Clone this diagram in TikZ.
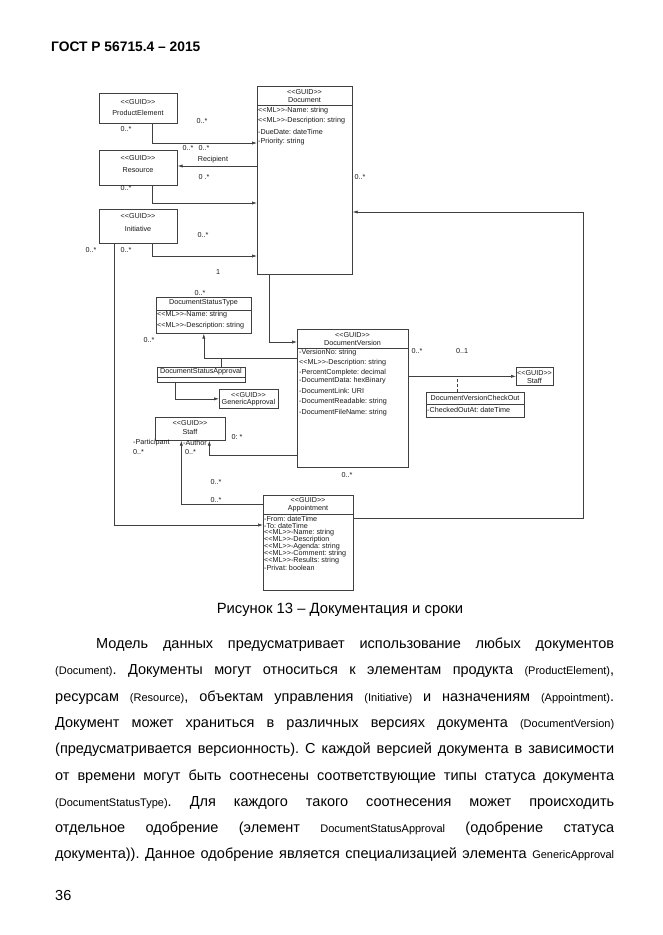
\documentclass[tikz,border=0pt]{standalone}
\usepackage{fontspec}
\setmainfont{Liberation Sans}
\usetikzlibrary{arrows.meta,calc}
\newcommand{\dfnt}{\fontsize{7.2}{8}\selectfont}
\newcommand{\ruf}{\fontsize{14.5}{17}\selectfont}
\newcommand{\enf}{\fontsize{11}{13}\selectfont}
\newcommand{\gd}{<{}<GUID>{}>}
\newcommand{\mlt}{<{}<ML>{}>}
\definecolor{lc}{gray}{0.25}
\definecolor{tc}{gray}{0.1}
\tikzset{
  box/.style={draw=lc, line width=0.65pt, inner sep=0pt, anchor=north west},
  t/.style={font=\dfnt, inner sep=0pt, text=tc},
  attrtxt/.style={t, anchor=west},
  conn/.style={draw=lc, line width=0.65pt},
  arr/.style={conn, -{Latex[length=5pt,width=3.2pt]}},
  body/.style={anchor=base west, inner sep=0pt, font=\ruf, text=black},
}
\frenchspacing
\begin{document}
\begin{tikzpicture}[x=1pt,y=-1pt]
\useasboundingbox (0,0) rectangle (662,935);
\fill[white] (0,0) rectangle (662,935);

% header
\node[anchor=west, inner sep=0pt, font=\bfseries\fontsize{13.8}{16}\selectfont] (hdr) at (51,47) {ГОСТ Р 56715.4 – 2015};

% ProductElement
\node[box,minimum width=78,minimum height=30] (pe) at (99,93) {};
\node[t] (pe1) at (138,102) {\gd};
\node[t] (pe2) at (138,113) {ProductElement};

% Resource
\node[box,minimum width=78,minimum height=35] (res) at (99,150) {};
\node[t] (res1) at (138,158) {\gd};
\node[t] (res2) at (138,170) {Resource};

% Initiative
\node[box,minimum width=78,minimum height=34] (ini) at (99,209) {};
\node[t] (ini1) at (138,216) {\gd};
\node[t] (ini2) at (138,229) {Initiative};

% Document
\node[box,minimum width=95,minimum height=188] (doc) at (257,86) {};
\draw[conn] (doc.west |- 0,105) -- (doc.east |- 0,105);
\node[t] (doc1) at (304.5,92) {\gd};
\node[t] (doc2) at (304.5,100) {Document};
\node[attrtxt] (doca1) at (258,111) {\mlt-Name: string};
\node[attrtxt] (doca2) at (258,121) {\mlt-Description: string};
\node[attrtxt] (doca3) at (258,132) {-DueDate: dateTime};
\node[attrtxt] (doca4) at (258,142) {-Priority: string};

% DocumentStatusType
\node[box,minimum width=95,minimum height=36] (dst) at (156,297) {};
\draw[conn] (dst.west |- 0,310) -- (dst.east |- 0,310);
\node[t] (dst1) at (203.5,303) {DocumentStatusType};
\node[attrtxt] (dsta1) at (157,315) {\mlt-Name: string};
\node[attrtxt] (dsta2) at (157,326) {\mlt-Description: string};

% DocumentStatusApproval
\node[box,minimum width=88,minimum height=15] (dsa) at (157,367) {};
\draw[conn] (dsa.west |- 0,377) -- (dsa.east |- 0,377);
\node[t] (dsa1) at (201,372) {DocumentStatusApproval};

% GenericApproval
\node[box,minimum width=59,minimum height=19] (ga) at (219,389) {};
\node[t] (ga1) at (248.5,395) {\gd};
\node[t] (ga2) at (248.5,403) {GenericApproval};

% Staff (left)
\node[box,minimum width=70,minimum height=23] (st1) at (155,417) {};
\node[t] (st11) at (190,423) {\gd};
\node[t] (st12) at (190,432) {Staff};

% DocumentVersion
\node[box,minimum width=111,minimum height=138] (dv) at (297,329) {};
\draw[conn] (dv.west |- 0,348) -- (dv.east |- 0,348);
\node[t] (dv1) at (352.5,335) {\gd};
\node[t] (dv2) at (352.5,343) {DocumentVersion};
\node[attrtxt] (dva1) at (299,353) {-VersionNo: string};
\node[attrtxt] (dva2) at (299,363) {\mlt-Description: string};
\node[attrtxt] (dva3) at (299,373) {-PercentComplete: decimal};
\node[attrtxt] (dva4) at (299,381) {-DocumentData: hexBinary};
\node[attrtxt] (dva5) at (299,391) {-DocumentLink: URI};
\node[attrtxt] (dva6) at (299,402) {-DocumentReadable: string};
\node[attrtxt] (dva7) at (299,413) {-DocumentFileName: string};

% Staff (right)
\node[box,minimum width=37,minimum height=18] (st2) at (516,367) {};
\node[t] (st21) at (534.5,373) {\gd};
\node[t] (st22) at (534.5,381) {Staff};

% DocumentVersionCheckOut
\node[box,minimum width=98,minimum height=25] (dvc) at (426,392) {};
\draw[conn] (dvc.west |- 0,404) -- (dvc.east |- 0,404);
\node[t] (dvc1) at (475,398) {DocumentVersionCheckOut};
\node[attrtxt] (dvca1) at (427,410) {-CheckedOutAt: dateTime};

% Appointment
\node[box,minimum width=90,minimum height=95] (app) at (263,495) {};
\draw[conn] (app.west |- 0,514) -- (app.east |- 0,514);
\node[t] (app1) at (308,500) {\gd};
\node[t] (app2) at (308,509) {Appointment};
\node[attrtxt] (appa1) at (264,519) {-From: dateTime};
\node[attrtxt] (appa2) at (264,526) {-To: dateTime};
\node[attrtxt] (appa3) at (264,533) {\mlt-Name: string};
\node[attrtxt] (appa4) at (264,540) {\mlt-Description};
\node[attrtxt] (appa5) at (264,547) {\mlt-Agenda: string};
\node[attrtxt] (appa6) at (264,554) {\mlt-Comment: string};
\node[attrtxt] (appa7) at (264,561) {\mlt-Results: string};
\node[attrtxt] (appa8) at (264,568) {-Privat: boolean};

% connectors
\draw[arr] ([xshift=53pt]pe.south west) |- (doc.west |- 0,143);
\draw[arr] (doc.west |- 0,166) -- (res.east |- 0,166);
\draw[arr] ([xshift=53pt]res.south west) |- (doc.west |- 0,203);
\draw[arr] ([xshift=53pt]ini.south west) |- (doc.west |- 0,256);
\draw[arr] ([xshift=-24pt]ini.south) |- (app.west |- 0,525);
\draw[arr] ([xshift=12pt]doc.south west) |- (dv.west |- 0,342);
\draw[arr] (dv.west |- 0,358) -| (dst.south);
\draw[conn] ([xshift=20pt]dsa.north) -- ([xshift=20pt]dsa.north |- 0,358);
\draw[arr] ([xshift=-26pt]dsa.south) |- (ga.west);
\draw[arr] (dv.west |- 0,455) -| ([xshift=19pt]st1.south);
\draw[arr] (app.west |- 0,504) -| ([xshift=-9pt]st1.south);
\draw[arr] (dv.east |- st2.west) -- (st2.west);
\draw[conn, dash pattern=on 3pt off 2pt] ([xshift=-18pt]dvc.north) -- ([xshift=-18pt]dvc.north |- st2.west);
\coordinate (rc) at (583,212);
\draw[arr] (app.east |- 0,518) -| (rc) -- (doc.east |- rc);

% multiplicities and roles
\node[t] (m1) at (126,129) {0..*};
\node[t] (m2) at (202,121) {0..*};
\node[t] (m3) at (188,148) {0..*};
\node[t] (m4) at (204,148) {0..*};
\node[t] (rcp) at (213,160) {Recipient};
\node[t] (m5) at (204,177) {0 .*};
\node[t] (m6) at (126,188) {0..*};
\node[t] (m7) at (203,235) {0..*};
\node[t] (m8) at (126,250) {0..*};
\node[t] (m9) at (91,250) {0..*};
\node[t] (m10) at (218,272) {1};
\node[t] (m11) at (360,177) {0..*};
\node[t] (m12) at (200,293) {0..*};
\node[t] (m13) at (149,340) {0..*};
\node[t] (m14) at (237,437) {0: *};
\node[attrtxt] (par) at (133,443) {-Participant};
\node[attrtxt] (m15) at (133,452) {0..*};
\node[attrtxt] (aut) at (183,443) {-Author};
\node[attrtxt] (m16) at (185,452) {0..*};
\node[t] (m17) at (216,482) {0..*};
\node[t] (m18) at (216,500) {0..*};
\node[t] (m19) at (347,475) {0..*};
\node[t] (m20) at (417,351) {0..*};
\node[t] (m21) at (462,351) {0..1};

% caption
\node[inner sep=0pt, font=\fontsize{14.8}{17}\selectfont] (cap) at (340,610) {Рисунок 13 – Документация и сроки};

% body text
\node[body] (l1) at (96,648) {\makebox[518pt][s]{Модель данных предусматривает использование любых документов}};
\node[body] (l2) at (55,674) {\makebox[559pt][s]{{\enf(Document)}. Документы могут относиться к элементам продукта {\enf(ProductElement)},}};
\node[body] (l3) at (55,701) {\makebox[559pt][s]{ресурсам {\enf(Resource)}, объектам управления {\enf(Initiative)} и назначениям {\enf(Appointment)}.}};
\node[body] (l4) at (55,727) {\makebox[559pt][s]{Документ может храниться в различных версиях документа {\enf(DocumentVersion)}}};
\node[body] (l5) at (55,753) {\makebox[559pt][s]{(предусматривается версионность). С каждой версией документа в зависимости}};
\node[body] (l6) at (55,780) {\makebox[559pt][s]{от времени могут быть соотнесены соответствующие типы статуса документа}};
\node[body] (l7) at (55,806) {\makebox[559pt][s]{{\enf(DocumentStatusType)}. Для каждого такого соотнесения может происходить}};
\node[body] (l8) at (55,832) {\makebox[559pt][s]{отдельное одобрение (элемент {\enf DocumentStatusApproval} (одобрение статуса}};
\node[body] (l9) at (55,858) {\makebox[559pt][s]{документа)). Данное одобрение является специализацией элемента {\enf GenericApproval}}};

\node[anchor=west, inner sep=0pt, font=\ruf] (pg) at (55,895) {36};
\end{tikzpicture}
\end{document}
